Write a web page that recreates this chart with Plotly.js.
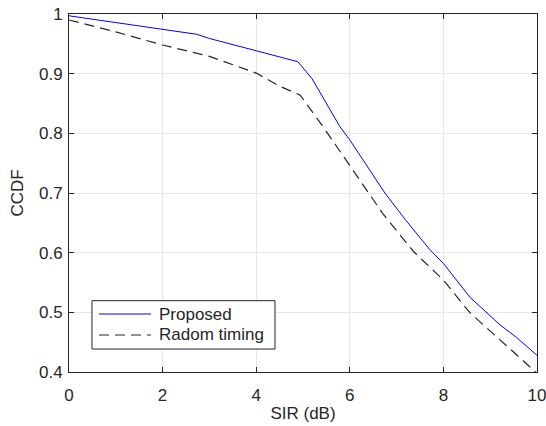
<!DOCTYPE html>
<html><head><meta charset="utf-8">
<script src="https://cdn.plot.ly/plotly-3.0.1.min.js"></script>
<style>body{margin:0;padding:0;background:#fff}#chart{width:546px;height:426px}</style>
</head><body><div id="chart"></div>
<script>
const proposedX = [0, 1, 2, 2.73, 3, 4, 4.89, 5.19, 5.43, 5.79, 6, 6.75, 7.18, 7.71, 8, 8.57, 9.21, 9.56, 10];
const proposedY = [0.997, 0.986, 0.974, 0.966, 0.959, 0.939, 0.920, 0.892, 0.859, 0.811, 0.789, 0.700, 0.656, 0.605, 0.582, 0.525, 0.479, 0.458, 0.428];
const randomX = [0, 1, 2, 3, 4, 4.5, 4.94, 5.22, 5.43, 6, 6.7, 7.36, 8, 8.57, 9.28, 10];
const randomY = [0.990, 0.970, 0.948, 0.929, 0.901, 0.879, 0.864, 0.834, 0.811, 0.746, 0.666, 0.602, 0.554, 0.499, 0.449, 0.398];
const xTicks = [0, 2, 4, 6, 8, 10];
const yTicks = [0.4, 0.5, 0.6, 0.7, 0.8, 0.9, 1];
const yTickText = ['0.4', '0.5', '0.6', '0.7', '0.8', '0.9', '1'];
const seriesNames = ['Proposed', 'Radom timing'];
const seriesColors = ['#0000ff', '#262626'];
const seriesDash = ['solid', '10px,6px'];

const font = {family: 'Liberation Sans, Arial, sans-serif', size: 17, color: '#262626'};
const axisCommon = {
  showline: true, mirror: 'ticks', linecolor: '#262626', linewidth: 1,
  ticks: 'inside', ticklen: 5, tickcolor: '#262626', tickwidth: 1,
  showgrid: true, gridcolor: '#e6e6e6', gridwidth: 1, zeroline: false,
  tickfont: font, ticklabeloverflow: 'allow'
};
const data = [
  {x: proposedX, y: proposedY, name: seriesNames[0], type: 'scatter', mode: 'lines',
   line: {color: seriesColors[0], width: 1, dash: seriesDash[0]}},
  {x: randomX, y: randomY, name: seriesNames[1], type: 'scatter', mode: 'lines',
   line: {color: seriesColors[1], width: 1.2, dash: seriesDash[1]}}
];

// legend box drawn in paper coordinates (MATLAB-style long line samples)
const legendRows = [0.162, 0.1034];
const shapes = [
  {type: 'rect', xref: 'paper', yref: 'paper', x0: 0.0491, x1: 0.4402, y0: 0.0642, y1: 0.1992,
   line: {color: '#262626', width: 1}, fillcolor: '#ffffff', layer: 'above'}
];
const annotations = [];
seriesNames.forEach((n, i) => {
  shapes.push({type: 'line', xref: 'paper', yref: 'paper', x0: 0.0641, x1: 0.1752,
    y0: legendRows[i], y1: legendRows[i], layer: 'above',
    line: {color: seriesColors[i], width: i === 0 ? 1 : 1.2, dash: seriesDash[i]}});
  annotations.push({xref: 'paper', yref: 'paper', x: 0.188, y: legendRows[i],
    xanchor: 'left', yanchor: 'middle', showarrow: false, text: n, font: font});
});

const layout = {
  width: 546, height: 426,
  margin: {l: 69, r: 9, t: 14, b: 54},
  paper_bgcolor: '#fff', plot_bgcolor: '#fff',
  font: font, showlegend: false,
  xaxis: Object.assign({}, axisCommon, {range: [0, 10], tickvals: xTicks, ticklabelstandoff: 8,
    title: {text: 'SIR (dB)', font: font, standoff: 2}}),
  yaxis: Object.assign({}, axisCommon, {range: [0.4, 1], tickvals: yTicks, ticktext: yTickText,
    ticklabelstandoff: 2, title: {text: 'CCDF', font: font, standoff: 11}}),
  shapes: shapes, annotations: annotations
};
Plotly.newPlot('chart', data, layout, {displayModeBar: false, staticPlot: true});
</script></body></html>
